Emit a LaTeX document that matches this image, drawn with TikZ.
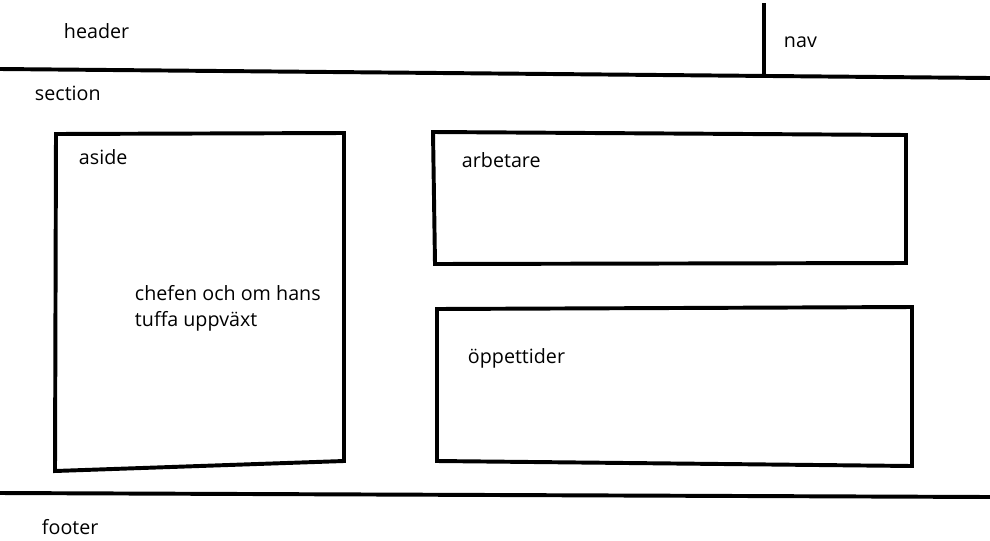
\documentclass[tikz,border=0pt]{standalone}
\usepackage{fontspec}
\setmainfont{Open Sans}
\usepackage{tikz}

\begin{document}
\begin{tikzpicture}[x=0.025cm, y=-0.025cm, line width=2.8pt]
  \tikzset{label/.style={anchor=west, inner sep=0pt, font=\fontsize{14}{19}\selectfont}}

  \useasboundingbox (0, 0) rectangle (990, 540);

  % header line and nav divider
  \draw (0, 69) coordinate (h-l) -- (990, 78) coordinate (h-r);
  \draw (764, 3) coordinate (nav-t) -- (764, 74) coordinate (nav-b);

  % footer line
  \draw (0, 493) coordinate (f-l) -- (990, 497) coordinate (f-r);

  % boxes
  \draw (56, 134) coordinate (aside-nw) -- (344, 133) -- (344, 461)
        -- (55, 471) -- cycle;
  \draw (433, 132) coordinate (arb-nw) -- (906, 135) -- (906, 263)
        -- (435, 264) -- cycle;
  \draw (437, 309) coordinate (opp-nw) -- (912, 307) -- (912, 466)
        -- (437, 461) -- cycle;

  \node [label] (header) at (62, 31) {header};
  \node [label] (nav) at (782, 42) {nav};
  \node [label] (section) at (33, 93) {section};
  \node [label] (aside) at (77, 157) {aside};
  \node [label, align=left, anchor=north west] (chefen) at (133, 283)
        {chefen och om hans\\tuffa uppväxt};
  \node [label] (arbetare) at (460, 160) {arbetare};
  \node [label] (oppettider) at (466, 358) {öppettider};
  \node [label] (footer) at (40, 527) {footer};

\end{tikzpicture}
\end{document}
